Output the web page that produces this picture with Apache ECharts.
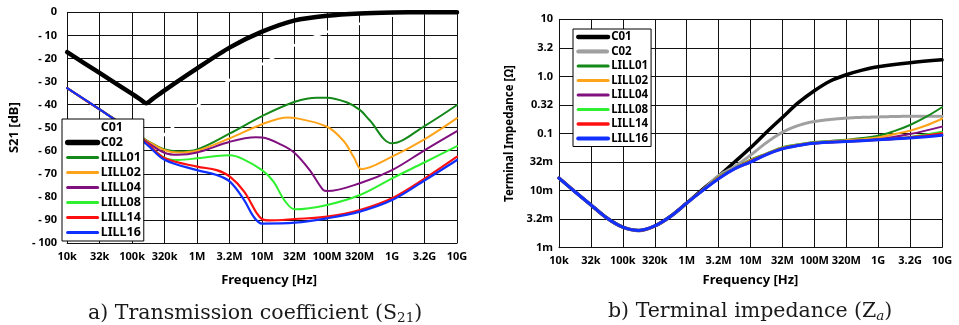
<!DOCTYPE html>
<html>
<head>
<meta charset="utf-8">
<script src="https://cdn.jsdelivr.net/npm/echarts@6/dist/echarts.min.js"></script>
<style>
  html, body { margin: 0; padding: 0; background: #fff; }
  #wrap { position: relative; width: 959px; height: 325px; }
  #s21 { position: absolute; left: 0; top: 0; width: 480px; height: 325px; }
  #za  { position: absolute; left: 480px; top: 0; width: 479px; height: 325px; }
</style>
</head>
<body>
<div id="wrap"><div id="s21"></div><div id="za"></div></div>
<script>
// ---- tick labels ----
const freqTicks = ['10k', '32k', '100k', '320k', '1M', '3.2M', '10M', '32M', '100M', '320M', '1G', '3.2G', '10G'];
const s21Ticks = ['0', '- 10', '- 20', '- 30', '- 40', '- 50', '- 60', '- 70', '- 80', '- 90', '- 100'];
const zTicks = ['1m', '3.2m', '10m', '32m', '0.1', '0.32', '1.0', '3.2', '10'];

const seriesNames = ['C01', 'C02', 'LILL01', 'LILL02', 'LILL04', 'LILL08', 'LILL14', 'LILL16'];

// ---- transmission coefficient S21: [frequency Hz, dB] ----
const s21_C01 = [[1e4, -52], [3.2e4, -55], [1e5, -58], [1.8e5, -59], [3.2e5, -52.8], [1e6, -40.6], [3.2e6, -29.3], [1e7, -22.5], [3.2e7, -14.2], [1e8, -8.5], [3.2e8, -5], [1e9, -1.5], [3.2e9, -0.3], [1e10, 0]];
const s21_C02 = [[1e4, -17.3], [3.2e4, -26.4], [1e5, -35.4], [1.32e5, -37.6], [1.65e5, -39.4], [2.1e5, -37.4], [3.2e5, -33.7], [1e6, -24.3], [3.2e6, -15.2], [1e7, -8.4], [3.2e7, -3.5], [1e8, -1.5], [3.2e8, -0.5], [1e9, -0.1], [3.2e9, 0], [1e10, 0]];
const s21_LILL01 = [[1e4, -32.9], [3.2e4, -42.2], [1e5, -51.3], [1.8e5, -56], [3.2e5, -59.5], [5e5, -60.3], [1e6, -59.4], [3.2e6, -52.5], [1e7, -45], [3.2e7, -38.8], [7e7, -37], [1e8, -37], [2e8, -39], [3.2e8, -42.3], [4.5e8, -46.7], [1e9, -56.8], [3.2e9, -49.2], [1e10, -40.2]];
const s21_LILL02 = [[1e4, -32.9], [3.2e4, -42.2], [1e5, -51.3], [1.8e5, -56.2], [3.2e5, -59.8], [5e5, -60.8], [1e6, -60], [3.2e6, -54.6], [1e7, -48.5], [2.5e7, -45.6], [3.2e7, -45.8], [1e8, -49.6], [1.8e8, -55.8], [2.6e8, -63], [3.4e8, -68], [1e9, -62.6], [3.2e9, -55], [1e10, -45.9]];
const s21_LILL04 = [[1e4, -32.9], [3.2e4, -42.2], [1e5, -51.4], [1.8e5, -56.8], [3.2e5, -61], [5e5, -61.8], [1e6, -60.8], [3.2e6, -56.1], [8e6, -54.2], [1e7, -54.3], [2e7, -57.5], [3.2e7, -61.1], [5.4e7, -68.4], [8.7e7, -77], [1e8, -77.5], [3.2e8, -74.1], [1e9, -68.4], [3.2e9, -59.7], [1e10, -51.5]];
const s21_LILL08 = [[1e4, -32.9], [3.2e4, -42.2], [1e5, -51.5], [1.8e5, -57.5], [3.2e5, -63.2], [5e5, -64], [1e6, -63.3], [2e6, -62.3], [3.2e6, -62], [5e6, -63.5], [1e7, -68.4], [1.5e7, -73.4], [2.2e7, -81.4], [3.2e7, -85.4], [1e8, -83.5], [3.2e8, -79.2], [1e9, -72], [3.2e9, -65], [1e10, -58]];
const s21_LILL14 = [[1e4, -32.9], [3.2e4, -42.2], [1e5, -51.6], [1.8e5, -57.5], [3.2e5, -63.3], [1e6, -66.9], [2e6, -68.4], [3.2e6, -71.2], [5.3e6, -77.7], [8.3e6, -87.1], [1e7, -89.7], [1.3e7, -90.2], [3.2e7, -89.6], [1e8, -88.6], [3.2e8, -85.7], [1e9, -80.6], [3.2e9, -72], [1e10, -62.6]];
const s21_LILL16 = [[1e4, -32.9], [3.2e4, -42.2], [1e5, -51.8], [1.8e5, -58], [3.2e5, -64], [1e6, -68.4], [2e6, -70.5], [3.2e6, -73.4], [5.3e6, -81.4], [7.4e6, -88.6], [1e7, -91.6], [3.2e7, -91.2], [1e8, -89.3], [3.2e8, -86.4], [1e9, -81.4], [3.2e9, -72.8], [1e10, -64]];

// ---- terminal impedance Za: [frequency Hz, ohm] ----
const za_base = [[1e4, 0.0166], [1.78e4, 0.00955], [3.16e4, 0.00562], [5.62e4, 0.00331], [1e5, 0.00229], [1.78e5, 0.00200], [3.16e5, 0.00240], [5.62e5, 0.00355], [1e6, 0.00603]];
const za_C01 = [[1.78e6, 0.0105], [3.16e6, 0.0178], [5.62e6, 0.0316], [1e7, 0.0562], [1.78e7, 0.105], [3.16e7, 0.191], [5.62e7, 0.347], [1e8, 0.562], [1.78e8, 0.832], [3.16e8, 1.07], [5.62e8, 1.29], [1e9, 1.48], [3.16e9, 1.74], [1e10, 1.95]];
const za_C02 = [[1.78e6, 0.0102], [3.16e6, 0.0182], [5.62e6, 0.0263], [1e7, 0.0417], [1.78e7, 0.0692], [3.16e7, 0.105], [5.62e7, 0.138], [1e8, 0.162], [3.16e8, 0.186], [1e9, 0.195], [3.16e9, 0.200], [1e10, 0.200]];
const za_LILL01 = [[1.78e6, 0.0100], [3.16e6, 0.0174], [5.62e6, 0.0245], [1e7, 0.0347], [1.78e7, 0.0447], [3.16e7, 0.0575], [5.62e7, 0.0646], [1e8, 0.0708], [3.16e8, 0.0776], [1e9, 0.0912], [1.78e9, 0.110], [3.16e9, 0.141], [5.62e9, 0.195], [1e10, 0.288]];
const za_LILL02 = [[1.78e6, 0.0100], [3.16e6, 0.0170], [5.62e6, 0.0243], [1e7, 0.0339], [1.78e7, 0.0440], [3.16e7, 0.0562], [5.62e7, 0.0635], [1e8, 0.0692], [3.16e8, 0.0759], [1e9, 0.0851], [1.78e9, 0.0977], [3.16e9, 0.112], [5.62e9, 0.138], [1e10, 0.182]];
const za_LILL04 = [[1.78e6, 0.0100], [3.16e6, 0.0166], [5.62e6, 0.0241], [1e7, 0.0331], [1.78e7, 0.0433], [3.16e7, 0.0550], [5.62e7, 0.0625], [1e8, 0.0676], [3.16e8, 0.0724], [1e9, 0.0794], [3.16e9, 0.0977], [1e10, 0.132]];
const za_LILL08 = [[1.78e6, 0.0100], [3.16e6, 0.0164], [5.62e6, 0.0240], [1e7, 0.0320], [1.78e7, 0.0427], [3.16e7, 0.0541], [5.62e7, 0.0617], [1e8, 0.0676], [3.16e8, 0.0724], [1e9, 0.0776], [3.16e9, 0.0871], [1e10, 0.107]];
const za_LILL14 = [[1.78e6, 0.0100], [3.16e6, 0.0162], [5.62e6, 0.0240], [1e7, 0.0316], [1.78e7, 0.0427], [3.16e7, 0.0537], [5.62e7, 0.0617], [1e8, 0.0676], [3.16e8, 0.0724], [1e9, 0.0776], [3.16e9, 0.0851], [1e10, 0.100]];
const za_LILL16 = [[1.78e6, 0.0100], [3.16e6, 0.0162], [5.62e6, 0.0240], [1e7, 0.0316], [1.78e7, 0.0427], [3.16e7, 0.0537], [5.62e7, 0.0617], [1e8, 0.0676], [3.16e8, 0.0724], [1e9, 0.0776], [3.16e9, 0.0832], [1e10, 0.0933]];

// ---- styles ----
const LABEL_FONT = { fontFamily: 'Noto Sans', fontWeight: 'bold', fontSize: 11, color: '#000' };
const NAME_FONT = { fontFamily: 'Noto Sans', fontWeight: 'bold', fontSize: 13, color: '#000' };
const GRID_LINE = { color: '#111', width: 1 };
const CAPTION_FONT = 'DejaVu Serif';

const s21Styles = {
  C01: { color: '#ffffff', width: 2.5 },
  C02: { color: '#000000', width: 4.5 },
  LILL01: { color: '#15881a', width: 2 },
  LILL02: { color: '#ffa31a', width: 2 },
  LILL04: { color: '#80107f', width: 2 },
  LILL08: { color: '#2ef02e', width: 2 },
  LILL14: { color: '#ff1010', width: 2.2 },
  LILL16: { color: '#1030ff', width: 2.2 }
};
const zaStyles = {
  C01: { color: '#000000', width: 3.5 },
  C02: { color: '#a0a0a0', width: 3, type: [1, 1] },
  LILL01: { color: '#15881a', width: 2 },
  LILL02: { color: '#ffa31a', width: 2.2 },
  LILL04: { color: '#80107f', width: 2 },
  LILL08: { color: '#2ef02e', width: 2 },
  LILL14: { color: '#ff1010', width: 2.5 },
  LILL16: { color: '#1030ff', width: 3 }
};

const log10 = Math.log10;

function lineSeries(name, points, style, smooth) {
  return {
    name: name,
    type: 'line',
    data: points,
    symbol: 'none',
    showSymbol: false,
    smooth: smooth,
    silent: true,
    animation: false,
    lineStyle: Object.assign({ cap: 'round', join: 'round' }, style),
    itemStyle: { color: style.color },
    emphasis: { disabled: true }
  };
}

function freqAxis(nameGap, namePad) {
  return {
    type: 'value', min: 4, max: 10, interval: 0.5,
    axisLine: { show: true, onZero: false, lineStyle: GRID_LINE },
    axisTick: { show: false },
    splitLine: { show: true, lineStyle: GRID_LINE },
    axisLabel: Object.assign({ margin: 8, formatter: v => freqTicks[Math.round((v - 4) * 2)] }, LABEL_FONT),
    name: 'Frequency [Hz]', nameLocation: 'middle', nameGap: nameGap,
    nameTextStyle: Object.assign({ padding: namePad }, NAME_FONT)
  };
}

// boxed legend showing line samples only (symbol marker hidden)
function legendBox(left, top, itemHeight, itemGap, fontSize, styles) {
  return {
    orient: 'vertical', left: left, top: top,
    itemWidth: 30, itemHeight: itemHeight, itemGap: itemGap,
    padding: [2, 3, 2, 3],
    backgroundColor: '#fff', borderColor: '#000', borderWidth: 1, borderRadius: 0,
    selectedMode: false,
    itemStyle: { opacity: 0, borderWidth: 0 },
    textStyle: { fontFamily: 'Noto Sans', fontWeight: 'bold', fontSize: fontSize, color: '#000', padding: [0, 0, 0, -2] },
    data: seriesNames.map(n => ({ name: n, lineStyle: { width: Math.max(styles[n].width + 0.8, 3) } }))
  };
}

function caption(left, top, text, rich) {
  return { type: 'text', left: left, top: top, silent: true, style: { text: text, rich: rich } };
}

// ---- a) transmission coefficient ----
const s21Data = [s21_C01, s21_C02, s21_LILL01, s21_LILL02, s21_LILL04, s21_LILL08, s21_LILL14, s21_LILL16];
const chartA = echarts.init(document.getElementById('s21'), null, { renderer: 'canvas' });
chartA.setOption({
  animation: false,
  grid: { left: 63, top: 12.3, width: 394, height: 230.7 },
  xAxis: freqAxis(31, [0, 0, 0, 14]),
  yAxis: {
    type: 'value', min: -100, max: 0, interval: 10,
    axisLine: { show: true, onZero: false, lineStyle: GRID_LINE },
    axisTick: { show: false },
    splitLine: { show: true, lineStyle: GRID_LINE },
    axisLabel: Object.assign({ margin: 10, formatter: v => s21Ticks[Math.round(-v / 10)] }, LABEL_FONT),
    name: 'S21 [dB]', nameLocation: 'middle', nameGap: 43, nameTextStyle: NAME_FONT
  },
  legend: legendBox(62, 119, 14, 2, 12.5, s21Styles),
  series: seriesNames.map((n, i) => lineSeries(n, s21Data[i].map(p => [log10(p[0]), p[1]]), s21Styles[n], n === 'C02' ? 0.25 : 0.35)),
  graphic: [caption(88, 303, '{m|a) Transmission coefficient (S}{s|21}{m|)}', {
    m: { fontFamily: CAPTION_FONT, fontSize: 20.5, fill: '#1a1a1a' },
    s: { fontFamily: CAPTION_FONT, fontSize: 13.5, fill: '#1a1a1a', padding: [10, 0, 0, 0] }
  })]
});

// ---- b) terminal impedance ----
const zaData = [za_C01, za_C02, za_LILL01, za_LILL02, za_LILL04, za_LILL08, za_LILL14, za_LILL16];
const chartB = echarts.init(document.getElementById('za'), null, { renderer: 'canvas' });
chartB.setOption({
  animation: false,
  grid: { left: 79, top: 19.3, width: 383, height: 228.4 },
  xAxis: freqAxis(26, [0, 0, 0, 0]),
  yAxis: {
    type: 'value', min: -3, max: 1, interval: 0.5,
    axisLine: { show: true, onZero: false, lineStyle: GRID_LINE },
    axisTick: { show: false },
    splitLine: { show: true, lineStyle: GRID_LINE },
    axisLabel: Object.assign({ margin: 6, formatter: v => zTicks[Math.round((v + 3) * 2)] }, LABEL_FONT),
    name: 'Terminal Impedance [Ω]', nameLocation: 'middle', nameGap: 39,
    nameTextStyle: Object.assign({}, NAME_FONT, { fontSize: 11.5 })
  },
  legend: legendBox(93, 29, 12, 2.5, 11.5, zaStyles),
  series: seriesNames.map((n, i) => lineSeries(n, za_base.concat(zaData[i]).map(p => [log10(p[0]), log10(p[1])]), zaStyles[n], 0.35)),
  graphic: [caption(128, 301, '{m|b) Terminal impedance (Z}{i|a}{m|)}', {
    m: { fontFamily: CAPTION_FONT, fontSize: 20.5, fill: '#1a1a1a' },
    i: { fontFamily: CAPTION_FONT, fontSize: 13.5, fontStyle: 'italic', fill: '#1a1a1a', padding: [10, 0, 0, 0] }
  })]
});
</script>
</body>
</html>
